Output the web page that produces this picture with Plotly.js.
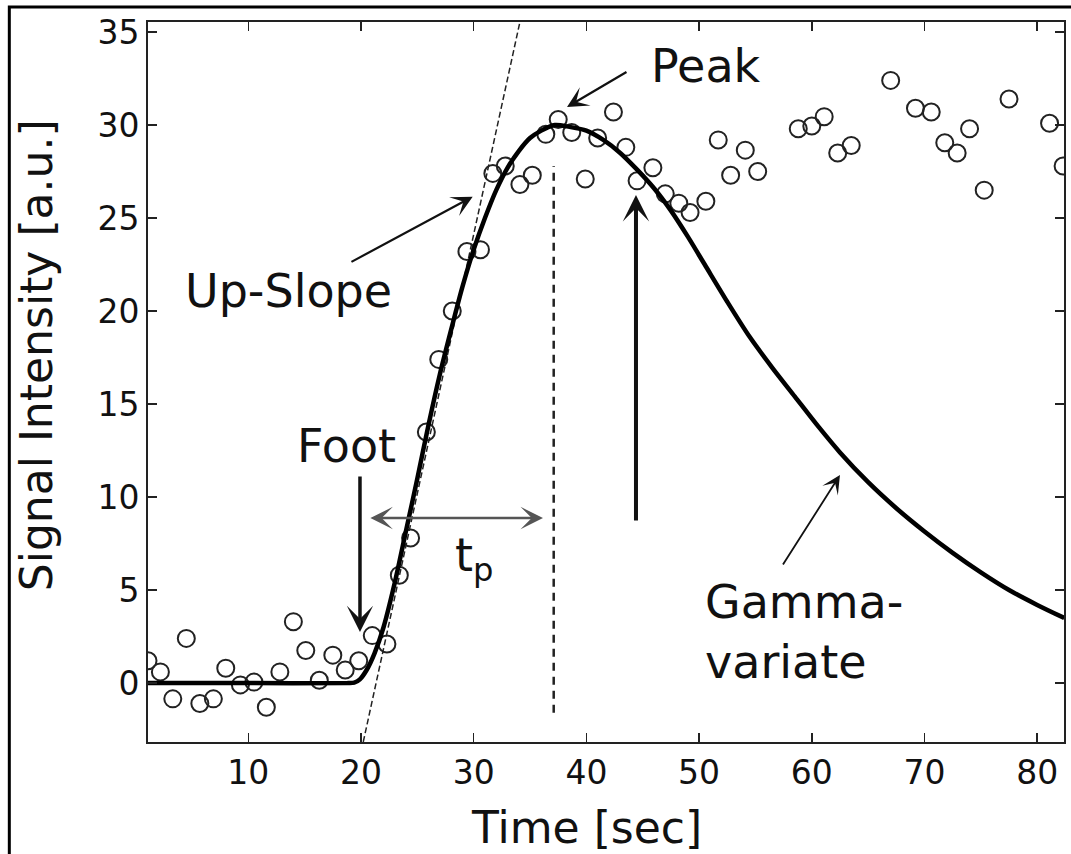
<!DOCTYPE html>
<html>
<head>
<meta charset="utf-8">
<script src="https://cdn.plot.ly/plotly-3.0.1.min.js"></script>
<style>
  html, body { margin: 0; padding: 0; background: #fff; }
  #chart { width: 1071px; height: 854px; }
</style>
</head>
<body>
<div id="chart"></div>
<script>
// Measured samples (open circles)
const timeSec = [1.1,2.2,3.3,4.5,5.7,6.9,8.0,9.3,10.5,11.6,12.8,14.0,15.1,16.3,17.5,18.6,19.8,21.0,22.3,23.4,24.4,25.8,26.9,28.1,29.4,30.6,31.7,32.8,34.1,35.2,36.4,37.5,38.7,39.9,41.0,42.4,43.5,44.5,45.9,47.0,48.2,49.2,50.6,51.7,52.8,54.1,55.2,58.8,60.0,61.1,62.3,63.5,67.0,69.2,70.6,71.8,72.9,74.0,75.3,77.5,81.1,82.3];
const signal = [1.2,0.6,-0.85,2.4,-1.1,-0.85,0.8,-0.1,0.05,-1.3,0.6,3.3,1.75,0.15,1.5,0.7,1.2,2.55,2.1,5.8,7.8,13.5,17.4,20.0,23.2,23.3,27.4,27.8,26.8,27.3,29.5,30.3,29.6,27.1,29.3,30.7,28.8,27.0,27.7,26.3,25.8,25.3,25.9,29.2,27.3,28.65,27.5,29.8,29.95,30.45,28.5,28.9,32.4,30.9,30.7,29.05,28.5,29.8,26.5,31.4,30.1,27.8];

// Gamma-variate fit curve
const fitX = [1.1,10.0,18.8,19.4,19.9,20.5,21.2,22.0,23.0,24.0,25.0,26.0,27.0,28.0,29.0,30.0,31.0,32.0,33.0,34.0,35.0,36.0,37.2,38.5,40.0,41.5,43.0,44.5,46.0,47.5,49.0,50.5,52.5,54.5,56.5,58.5,60.5,62.5,65.0,67.5,70.0,72.5,75.0,77.5,80.0,82.4];
const fitY = [0,0,0,0.02,0.2,0.7,1.6,3.0,5.4,8.2,11.0,13.9,16.6,19.0,21.3,23.3,25.0,26.5,27.7,28.6,29.3,29.7,30.0,29.9,29.7,29.2,28.5,27.6,26.6,25.4,24.0,22.5,20.5,18.6,16.95,15.4,13.85,12.4,10.8,9.4,8.15,7.0,5.95,5.0,4.2,3.5];

// Up-slope tangent and peak-time marker line
const tangentX = [20.2, 34.1];
const tangentY = [-3.17, 35.54];
const peakLineX = [37.1, 37.1];
const peakLineY = [-1.6, 27.8];

const xTicks = [10,20,30,40,50,60,70,80];
const yTicks = [0,5,10,15,20,25,30,35];

const FONT = 'DejaVu Sans, Liberation Sans, Arial, sans-serif';
const INK = '#111';

const traces = [
  { x: tangentX, y: tangentY, mode: 'lines', type: 'scatter',
    line: { color: '#222', width: 1.5, dash: '6px,3px' }, hoverinfo: 'skip' },
  { x: peakLineX, y: peakLineY, mode: 'lines', type: 'scatter',
    line: { color: '#222', width: 2.5, dash: '8px,6px' }, hoverinfo: 'skip' },
  { x: timeSec, y: signal, mode: 'markers', type: 'scatter',
    marker: { symbol: 'circle-open', size: 17, color: '#222', line: { width: 2, color: '#222' } } },
  { x: fitX, y: fitY, mode: 'lines', type: 'scatter',
    line: { color: '#000', width: 4.5, shape: 'spline', smoothing: 0.8 } }
];

function arrow(x, y, ax, ay, w, size, color) {
  return { x: x, y: y, ax: ax, ay: ay, xref: 'x', yref: 'y', axref: 'x', ayref: 'y',
    text: '', showarrow: true, arrowhead: 3, arrowwidth: w, arrowsize: size,
    arrowcolor: color || INK, standoff: 0, startstandoff: 0 };
}
function label(x, y, text, opts) {
  return Object.assign({ x: x, y: y, xref: 'x', yref: 'y', text: text, showarrow: false,
    xanchor: 'center', yanchor: 'middle',
    font: { family: FONT, size: 46, color: INK } }, opts || {});
}

const annotations = [
  // Peak
  arrow(38.28, 30.97, 43.69, 32.9, 2.2, 1.6),
  label(50.6, 33.2, 'Peak'),
  // Up-Slope
  arrow(29.91, 26.15, 19.02, 22.6, 2.2, 1.6),
  label(13.57, 21.1, 'Up-Slope'),
  // Foot
  arrow(19.91, 2.74, 19.91, 11.18, 3.5, 1.25),
  label(18.7, 12.75, 'Foot'),
  // t_p double arrow
  Object.assign(arrow(36.15, 8.87, 20.7, 8.87, 2.5, 1.5, '#555'), { arrowside: 'end+start', startarrowhead: 3, startarrowsize: 1.5 }),
  label(30.0, 6.7, 't<sub>p</sub>'),
  // big vertical arrow
  arrow(44.4, 26.24, 44.4, 8.66, 4, 1.1),
  // Gamma-variate
  arrow(62.5, 11.18, 57.36, 6.29, 1.8, 1.7),
  label(50.35, 2.75, 'Gamma-<br>variate', { xanchor: 'left', align: 'left' }),
  // axis titles
  { x: 0.479, y: -0.119, xref: 'paper', yref: 'paper', xanchor: 'center', yanchor: 'middle',
    text: 'Time [sec]', showarrow: false, font: { family: FONT, size: 44, color: INK } },
  { x: -0.122, y: 0.5375, xref: 'paper', yref: 'paper', xanchor: 'center', yanchor: 'middle',
    text: 'Signal Intensity [a.u.]', showarrow: false,
    textangle: -90, font: { family: FONT, size: 44, color: INK } }
];

const axisCommon = {
  ticks: 'inside', ticklen: 9, tickwidth: 1.5, tickcolor: '#222',
  showline: true, linewidth: 2, linecolor: '#222', mirror: 'ticks',
  showgrid: false, zeroline: false,
  tickfont: { family: FONT, size: 33, color: INK }
};

const layout = {
  width: 1071, height: 854,
  margin: { l: 148, r: 7, t: 22, b: 112, pad: 0 },
  paper_bgcolor: '#fff', plot_bgcolor: '#fff',
  showlegend: false,
  font: { family: FONT, color: INK },
  xaxis: Object.assign({}, axisCommon, { range: [1.1, 82.38], tickmode: 'array', tickvals: xTicks, ticktext: xTicks.map(String) }),
  yaxis: Object.assign({}, axisCommon, { range: [-3.17, 35.54], tickmode: 'array', tickvals: yTicks, ticktext: yTicks.map(String) }),
  annotations: annotations,
  shapes: [
    { type: 'rect', xref: 'paper', yref: 'paper', x0: -0.1514, x1: 1.05, y0: -0.3, y1: 1.0208,
      line: { color: '#000', width: 3 }, fillcolor: 'rgba(0,0,0,0)', layer: 'above' }
  ]
};

Plotly.newPlot('chart', traces, layout, { displayModeBar: false, staticPlot: true });
</script>
</body>
</html>
